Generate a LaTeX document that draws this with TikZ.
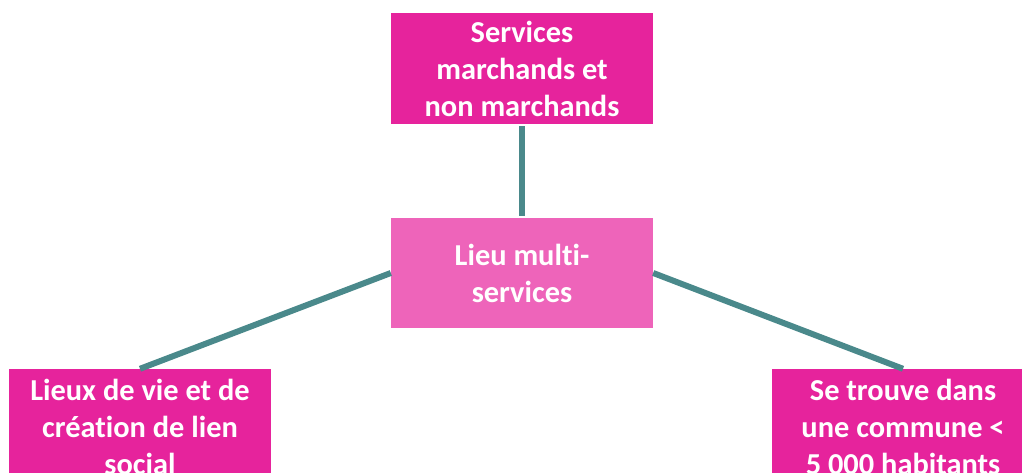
\documentclass[tikz,border=0pt]{standalone}
\usepackage{fontspec}
\setmainfont{Carlito}[Ligatures={NoCommon}]
\definecolor{fuchsia}{HTML}{E6239C}
\definecolor{pinklight}{HTML}{EE64BA}
\definecolor{tealline}{HTML}{4A898B}

\begin{document}
\begin{tikzpicture}[x=1pt,y=-1pt,
  box/.style={fill=fuchsia,text=white,font=\bfseries\fontsize{30.4}{37}\selectfont,
    align=center,inner sep=0pt,minimum width=262pt},
  link/.style={tealline,line width=6pt}]
  \useasboundingbox (0,0) rectangle (1022,473);

  \node[box,minimum height=111pt] (services) at (522,68.5) {Services\\marchands et\\non marchands};
  \node[box,fill=pinklight,minimum height=110pt] (lieu) at (522,273) {Lieu multi-\\services};
  \node[box,minimum height=116pt] (social) at (140,427) {Lieux de vie et de\\cr\'eation de lien\\social};
  \node[box,minimum height=116pt] (commune) at (903,427) {Se trouve dans\\une commune <\\5 000 habitants};

  \draw[link,shorten <=2pt,shorten >=2pt] (services) -- (lieu);
  \draw[link] (lieu.west) -- (social.north);
  \draw[link] (lieu.east) -- (commune.north);
\end{tikzpicture}
\end{document}
